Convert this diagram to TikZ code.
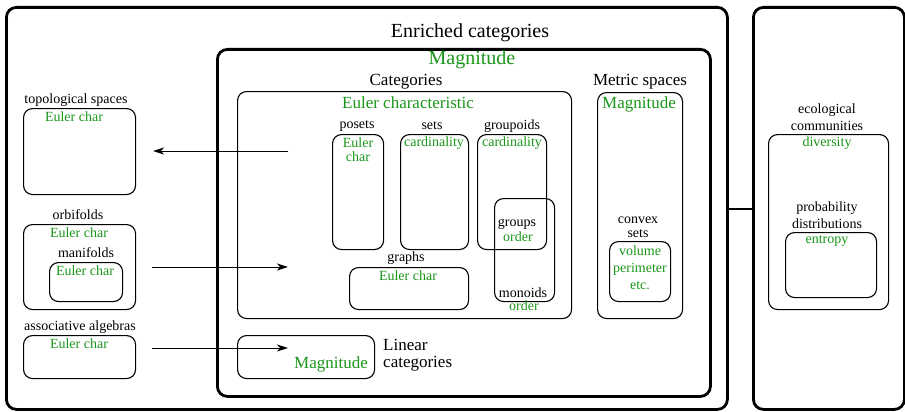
\documentclass[tikz,border=0pt]{standalone}
\usepackage{fontspec}
\setmainfont{Liberation Serif}
\usetikzlibrary{arrows.meta}
\definecolor{eg}{RGB}{25,150,25}
\tikzset{
  thickbox/.style={draw, line width=2.8pt, rounded corners=10pt, inner sep=0pt, anchor=north west},
  thinbox/.style={draw, line width=1.1pt, rounded corners=9pt, inner sep=0pt, anchor=north west},
  big/.style={inner sep=0pt, font=\fontsize{20}{22}\selectfont},
  mid/.style={inner sep=0pt, font=\fontsize{17}{17}\selectfont},
  sml/.style={inner sep=0pt, font=\fontsize{14}{14}\selectfont, align=center},
  sml17/.style={inner sep=0pt, font=\fontsize{14}{17}\selectfont, align=center},
  gr/.style={text=eg},
  arr/.style={line width=1pt, -{Stealth[length=11pt,width=7pt,inset=3pt]}}
}
\newcommand\bx[6]{\node[#1, minimum width=#4pt-#2pt, minimum height=#5pt-#3pt] (#6) at (#2,#3) {};}
\begin{document}
\begin{tikzpicture}[x=1pt,y=-1pt]
\useasboundingbox (0,0) rectangle (905,412);
% outer boxes
\bx{thickbox}{5}{6}{726}{408}{enr}
\bx{thickbox}{752}{6}{903}{408}{right}
\draw[line width=2.8pt] (enr.east |- 0,209) -- (right.west |- 0,209);
\bx{thickbox}{216}{48}{709}{395}{mag}
\bx{thinbox}{237}{91}{571}{318}{cat}
\bx{thinbox}{597}{92}{682}{318}{met}
\bx{thinbox}{609}{241}{670}{301}{cvx}
\bx{thinbox}{332}{134}{383}{249}{pos}
\bx{thinbox}{400}{134}{468}{249}{sets}
\bx{thinbox}{477}{134}{546}{249}{gpd}
\bx{thinbox}{494}{198}{554}{301}{grp}
\bx{thinbox}{349}{267}{468}{309}{graph}
\bx{thinbox}{237}{335}{374}{378}{lin}
\bx{thinbox}{23}{108}{135}{194}{top}
\bx{thinbox}{23}{224}{135}{309}{orb}
\bx{thinbox}{49}{262}{122}{301}{man}
\bx{thinbox}{23}{335}{135}{378}{alg}
\bx{thinbox}{768}{134}{888}{309}{eco}
\bx{thinbox}{785}{232}{876}{297}{prob}
% texts
\node[big] (tenr) at (470,33) {Enriched categories};
\node[big,gr] (tmag) at (472,60) {Magnitude};
\node[mid] (tcat) at (406,82) {Categories};
\node[mid,gr] (teul) at (408,103) {Euler characteristic};
\node[mid] (tmet) at (640,82) {Metric spaces};
\node[mid,gr] (tmmag) at (639,104) {Magnitude};
\node[sml] (tpos) at (357,126) {posets};
\node[sml,gr] (tpose) at (358,150) {Euler\\char};
\node[sml] (tsets) at (432,126) {sets};
\node[sml,gr] (tsetsc) at (434,143) {cardinality};
\node[sml] (tgpd) at (512,126) {groupoids};
\node[sml,gr] (tgpdc) at (512,143) {cardinality};
\node[sml] (tgrp) at (517,224) {groups};
\node[sml,gr] (tgrpo) at (518,237) {order};
\node[sml] (tmon) at (523,293) {monoids};
\node[sml,gr] (tmono) at (524,306) {order};
\node[sml] (tgraph) at (406,258) {graphs};
\node[sml,gr] (tgraphe) at (408,276) {Euler char};
\node[sml] (tcvx) at (638,227) {convex\\sets};
\node[sml17,gr] (tcvxv) at (640,268) {volume\\perimeter\\etc.};
\node[mid, anchor=west, align=left] (tlin) at (383,355) {Linear\\categories};
\node[mid,gr, anchor=east] (tlinm) at (368,364) {Magnitude};
\node[sml] (ttop) at (76,100) {topological spaces};
\node[sml,gr] (ttope) at (74,117) {Euler char};
\node[sml] (torb) at (78,215) {orbifolds};
\node[sml,gr] (torbe) at (79,233) {Euler char};
\node[sml] (tman) at (86,253) {manifolds};
\node[sml,gr] (tmane) at (85,271) {Euler char};
\node[sml] (talg) at (80,327) {associative algebras};
\node[sml,gr] (talge) at (79,344) {Euler char};
\node[sml17] (teco) at (827,117) {ecological\\communities};
\node[sml,gr] (tecod) at (827,143) {diversity};
\node[sml17] (tprob) at (827,215) {probability\\distributions};
\node[sml,gr] (tprobe) at (827,241) {entropy};
% arrows
\coordinate (a1s) at (288,151);
\coordinate (a1e) at (153,151);
\coordinate (a2s) at (152,267);
\coordinate (a2e) at (288,267);
\coordinate (a3s) at (152,348);
\coordinate (a3e) at (288,348);
\draw[arr] (a1s) -- (a1e);
\draw[arr] (a2s) -- (a2e);
\draw[arr] (a3s) -- (a3e);
\end{tikzpicture}
\end{document}
